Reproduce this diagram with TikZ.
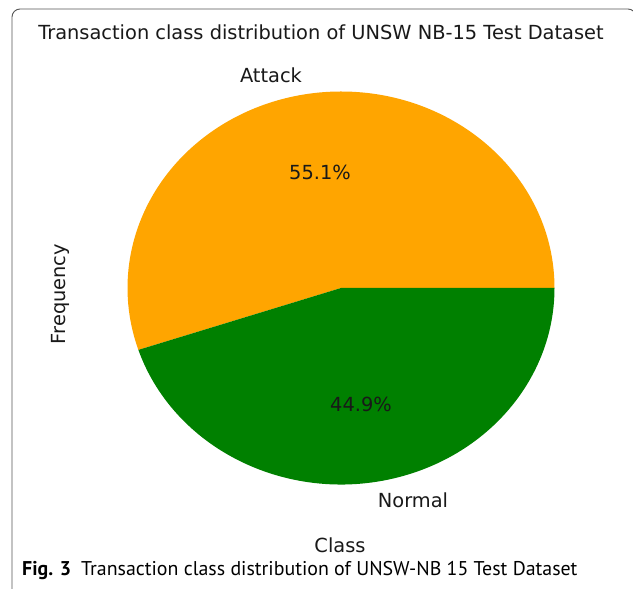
\documentclass[tikz,border=0pt]{standalone}
\usepackage{fontspec}
\setmainfont{DejaVu Sans}
\newfontfamily\capfont{PT Sans}
\definecolor{mplorange}{HTML}{FFA500}
\definecolor{mplgreen}{HTML}{008000}
\definecolor{framegray}{HTML}{555555}
\begin{document}
\begin{tikzpicture}[x=1pt,y=1pt,
  lbl/.style={inner sep=0pt,font=\fontsize{19.4}{22}\selectfont,text=black!90},
  frameline/.style={draw=framegray,line width=0.9pt}]
\useasboundingbox (0,0) rectangle (633,589);
\fill[white] (0,0) rectangle (633,589);
% frame
\draw[frameline] (12,-2) -- (12,572) arc[start angle=180,end angle=90,radius=8] -- (628,580) arc[start angle=90,end angle=0,radius=8] -- (636,-2);
% pie
\coordinate (c) at (341,301);
\fill[mplorange] (c) -- ++(213.5,0) arc[start angle=0,end angle=198.36,x radius=213.5,y radius=196.5] -- cycle;
\fill[mplgreen] (c) -- ++(198.36:213.5 and 196.5) arc[start angle=198.36,end angle=360,x radius=213.5,y radius=196.5] -- cycle;
% texts
\node[lbl] (title) at (321,557) {Transaction class distribution of UNSW NB-15 Test Dataset};
\node[lbl] (attack) at (271,514) {Attack};
\node[lbl] (p1) at (320,417) {55.1\%};
\node[lbl] (p2) at (361,185) {44.9\%};
\node[lbl] (normal) at (413,89) {Normal};
\node[lbl,rotate=90] (ylab) at (60,295) {Frequency};
\node[lbl] (xlab) at (340,44) {Class};
\node[anchor=west,inner sep=0pt,font=\capfont\fontsize{19.9}{22}\selectfont] (cap) at (22,18)
  {\textbf{Fig. 3}\hspace{0.5em}Transaction class distribution of UNSW-NB 15 Test Dataset};
\end{tikzpicture}
\end{document}
